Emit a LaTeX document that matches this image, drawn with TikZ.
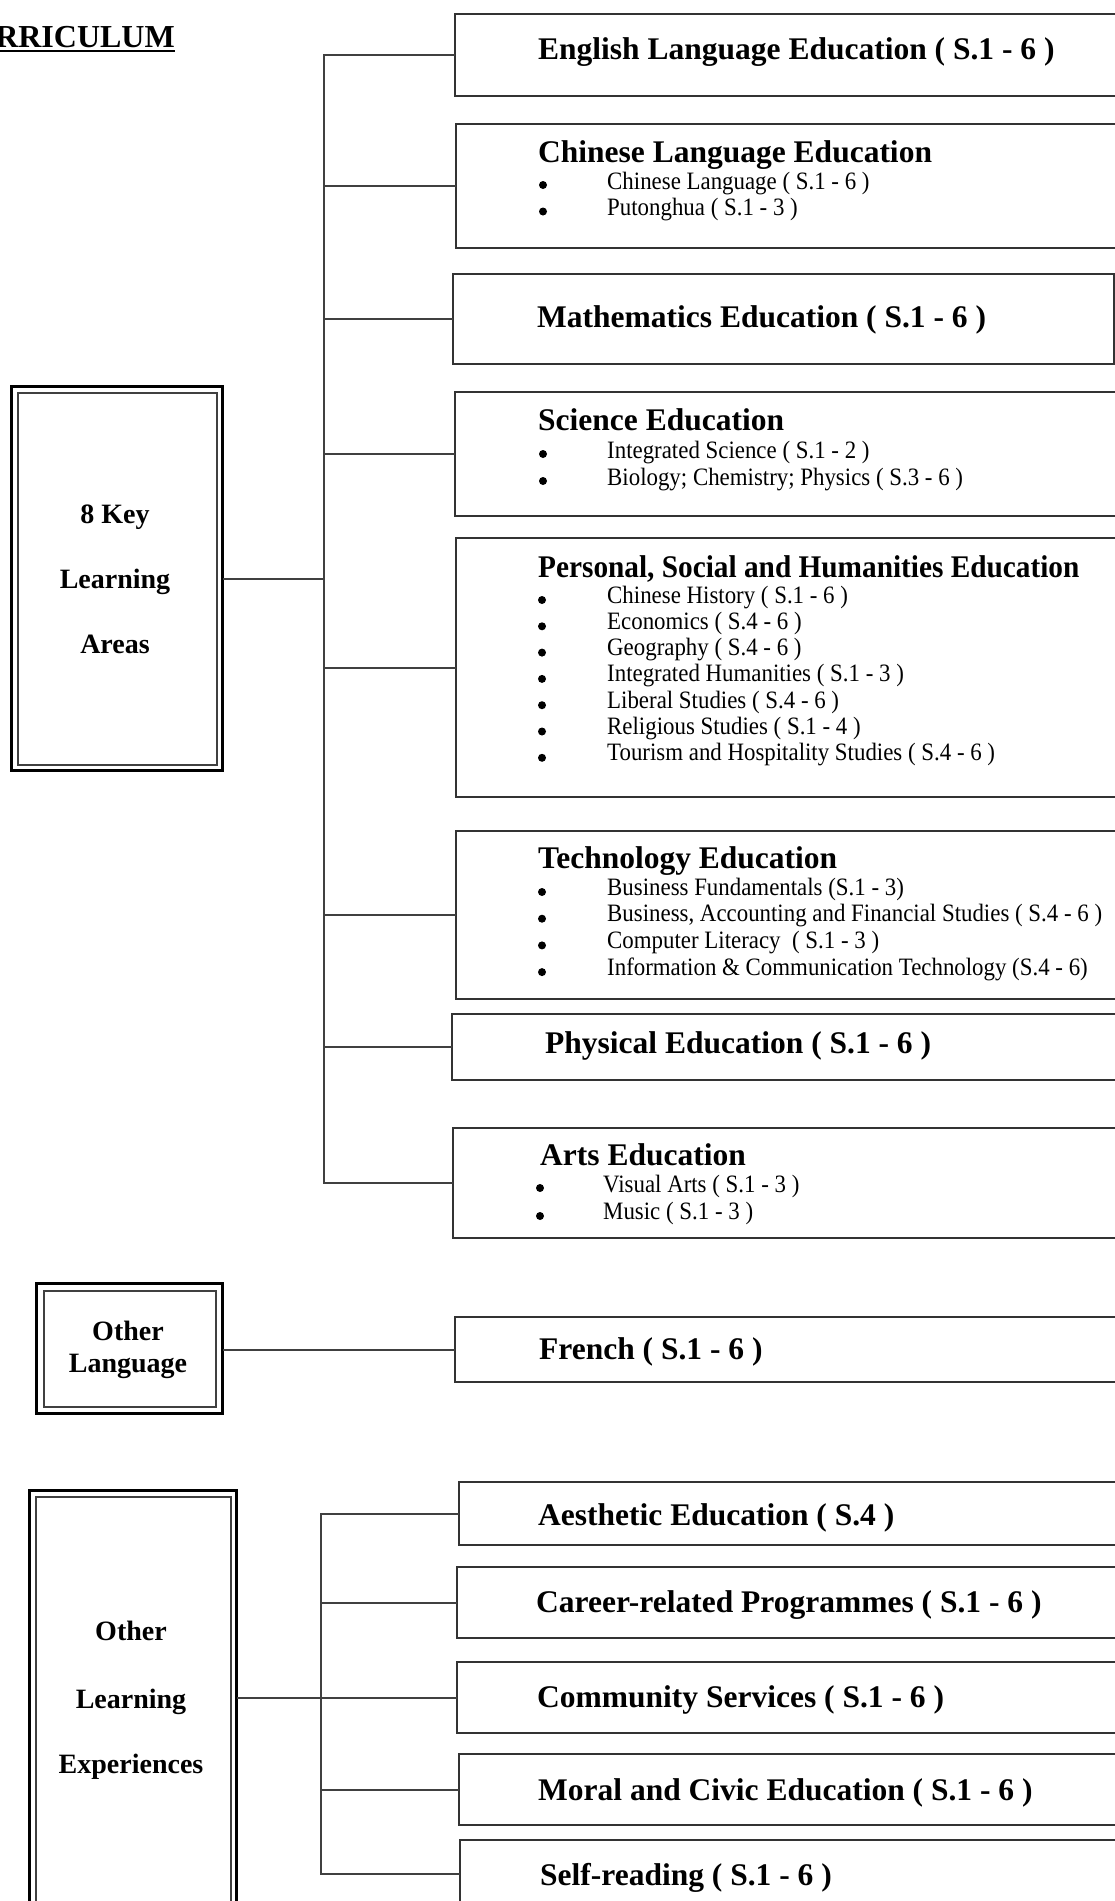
\documentclass[tikz,border=0pt]{standalone}
\usepackage{fontspec}
\setmainfont{Liberation Serif}
\newfontfamily\ItemFam{Liberation Serif}[FakeStretch=0.915]
\newfontfamily\CondFam{Liberation Serif}[FakeStretch=0.93]
\newcommand\HeadFont{\fontsize{31.5}{36}\selectfont\bfseries}
\newcommand\CondHead{\CondFam\fontsize{31.5}{36}\selectfont\bfseries}
\newcommand\ItemFont{\ItemFam\fontsize{25}{28}\selectfont}
\newcommand\LabFont{\fontsize{28}{32}\selectfont\bfseries}
\begin{document}
\begin{tikzpicture}[x=1pt,y=-1pt,
  box/.style={draw=black!80, line width=2.4pt, rectangle, inner sep=0pt, anchor=north west},
  outerbox/.style={draw=black, line width=3.2pt, rectangle, inner sep=0pt, anchor=north west},
  innerbox/.style={draw=black!75, line width=2.2pt, rectangle, inner sep=0pt},
  head/.style={font=\HeadFont, anchor=base west, inner sep=0pt},
  itemtext/.style={font=\ItemFont, anchor=base west, inner sep=0pt},
  lab/.style={font=\LabFont, anchor=base, inner sep=0pt},
  bul/.style={circle, fill=black, inner sep=0pt, minimum size=8pt},
  link/.style={draw=black!75, line width=2pt, line cap=rect}
]
\useasboundingbox (0,0) rectangle (1115,1901);
\clip (0,0) rectangle (1115,1901);

% title
\node[anchor=base east, inner sep=0pt, font=\fontsize{32}{36}\selectfont\bfseries] (title) at (175,47) {RRICULUM};
\draw[line width=1.8pt] ([yshift=-4pt]title.base west) -- ([yshift=-4pt]title.base east);

% ---------- 8 key learning areas ----------
\node[outerbox, minimum width=211pt, minimum height=384pt] (key) at (10,385) {};
\node[innerbox, minimum width=199pt, minimum height=372pt] (keyIn) at (key.center) {};
\node[lab] (keyA) at (115,523) {8 Key};
\node[lab] (keyB) at (115,588) {Learning};
\node[lab] (keyC) at (115,653) {Areas};

\node[box, minimum width=671pt, minimum height=82pt]  (eng)  at (454,13)  {};
\node[box, minimum width=670pt, minimum height=124pt] (chi)  at (455,123) {};
\node[box, minimum width=661pt, minimum height=90pt]  (math) at (452,273) {};
\node[box, minimum width=671pt, minimum height=124pt] (sci)  at (454,391) {};
\node[box, minimum width=670pt, minimum height=259pt] (pshe) at (455,537) {};
\node[box, minimum width=670pt, minimum height=168pt] (tech) at (455,830) {};
\node[box, minimum width=674pt, minimum height=66pt]  (phys) at (451,1013) {};
\node[box, minimum width=673pt, minimum height=110pt] (arts) at (452,1127) {};

\node[head] (engT)  at (538,59)   {English Language Education ( S.1 - 6 )};
\node[head] (chiT)  at (538,162)  {Chinese Language Education};
\node[head] (mathT) at (537,327)  {Mathematics Education ( S.1 - 6 )};
\node[head] (sciT)  at (538,430)  {Science Education};
\node[head, font=\CondHead] (psheT) at (538,577) {Personal, Social and Humanities Education};
\node[head] (techT) at (538,868)  {Technology Education};
\node[head] (physT) at (545,1053) {Physical Education ( S.1 - 6 )};
\node[head] (artsT) at (540,1165) {Arts Education};

\foreach \t [count=\i from 0] in {Chinese Language ( S.1 - 6 ), Putonghua ( S.1 - 3 )}{
  \node[bul] (chiB\i) at (543,{185+26.5*\i}) {};
  \node[itemtext] (chiI\i) at (607,{189+26.5*\i}) {\t};
}
\foreach \t [count=\i from 0] in {Integrated Science ( S.1 - 2 ), Biology; Chemistry; Physics ( S.3 - 6 )}{
  \node[bul] (sciB\i) at (543,{454+27*\i}) {};
  \node[itemtext] (sciI\i) at (607,{458+27*\i}) {\t};
}
\foreach \t [count=\i from 0] in {Chinese History ( S.1 - 6 ), Economics ( S.4 - 6 ), Geography ( S.4 - 6 ), Integrated Humanities ( S.1 - 3 ), Liberal Studies ( S.4 - 6 ), Religious Studies ( S.1 - 4 ), Tourism and Hospitality Studies ( S.4 - 6 )}{
  \node[bul] (psheB\i) at (542,{600+26.3*\i}) {};
  \node[itemtext] (psheI\i) at (607,{603+26.3*\i}) {\t};
}
\foreach \t [count=\i from 0] in {Business Fundamentals (S.1 - 3), {Business, Accounting and Financial Studies ( S.4 - 6 )}, {Computer Literacy~ ( S.1 - 3 )}, Information \& Communication Technology (S.4 - 6)}{
  \node[bul] (techB\i) at (542,{892+26.7*\i}) {};
  \node[itemtext] (techI\i) at (607,{895+26.7*\i}) {\t};
}
\foreach \t [count=\i from 0] in {Visual Arts ( S.1 - 3 ), Music ( S.1 - 3 )}{
  \node[bul] (artsB\i) at (540,{1188+28*\i}) {};
  \node[itemtext] (artsI\i) at (603,{1192+27*\i}) {\t};
}

\coordinate (sp) at (324,0);
\draw[link] (eng.west -| sp) -- (arts.west -| sp);
\foreach \b in {eng,chi,math,sci,pshe,tech,phys,arts}
  \draw[link] (\b.west -| sp) -- (\b.west);
\draw[link] (key.east) -- (key.east -| sp);

% ---------- other language ----------
\node[outerbox, minimum width=186pt, minimum height=130pt] (olang) at (35,1282) {};
\node[innerbox, minimum width=172pt, minimum height=116pt] (olangIn) at (olang.center) {};
\node[lab] (olangA) at (128,1340) {Other};
\node[lab] (olangB) at (128,1372) {Language};
\node[box, minimum width=671pt, minimum height=65pt] (french) at (454,1316) {};
\node[head] (frenchT) at (539,1359) {French ( S.1 - 6 )};
\draw[link] (french.west -| olang.east) -- (french.west);

% ---------- other learning experiences ----------
\node[outerbox, minimum width=207pt, minimum height=420pt] (ole) at (28,1489) {};
\node[innerbox, minimum width=195pt, minimum height=408pt] (oleIn) at (ole.center) {};
\node[lab] (oleA) at (131,1640) {Other};
\node[lab] (oleB) at (131,1708) {Learning};
\node[lab] (oleC) at (131,1773) {Experiences};

\node[box, minimum width=667pt, minimum height=63pt] (aes)  at (458,1481) {};
\node[box, minimum width=669pt, minimum height=71pt] (car)  at (456,1566) {};
\node[box, minimum width=669pt, minimum height=71pt] (com)  at (456,1661) {};
\node[box, minimum width=667pt, minimum height=71pt] (mor)  at (458,1753) {};
\node[box, minimum width=666pt, minimum height=68pt] (self) at (459,1839) {};

\node[head] (aesT)  at (538,1525) {Aesthetic Education ( S.4 )};
\node[head] (carT)  at (536,1612) {Career-related Programmes ( S.1 - 6 )};
\node[head] (comT)  at (537,1707) {Community Services ( S.1 - 6 )};
\node[head] (morT)  at (538,1800) {Moral and Civic Education ( S.1 - 6 )};
\node[head] (selfT) at (540,1885) {Self-reading ( S.1 - 6 )};

\coordinate (sp2) at (321,0);
\draw[link] (aes.west -| sp2) -- (self.west -| sp2);
\foreach \b in {aes,car,mor,self}
  \draw[link] (\b.west -| sp2) -- (\b.west);
\draw[link] (com.west -| ole.east) -- (com.west);
\end{tikzpicture}
\end{document}
